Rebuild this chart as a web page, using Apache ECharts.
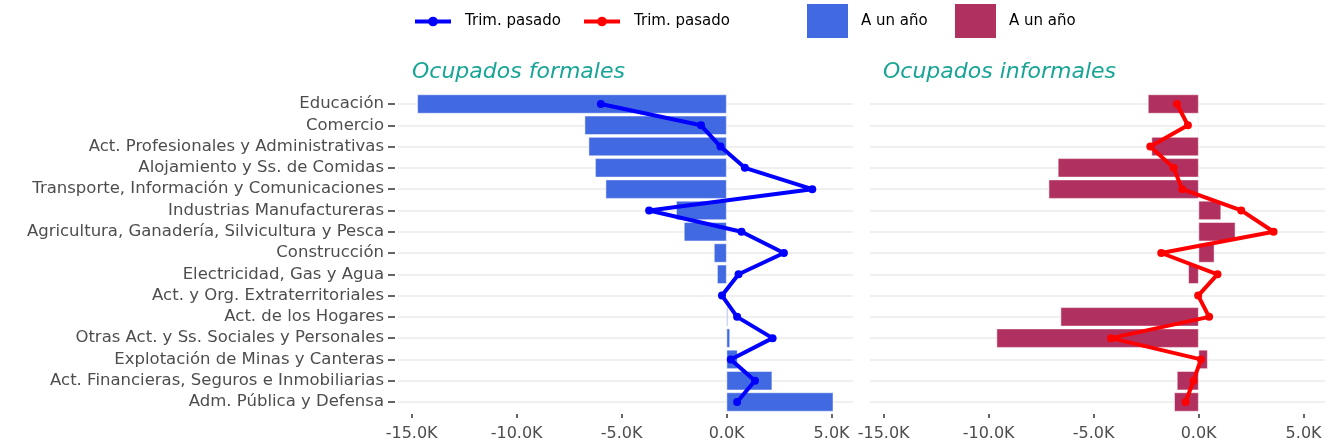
<!DOCTYPE html>
<html>
<head>
<meta charset="utf-8">
<script src="https://cdn.jsdelivr.net/npm/echarts@6/dist/echarts.min.js"></script>
<style>
  html, body { margin: 0; padding: 0; background: #fff; }
  #chart { width: 1330px; height: 444px; }
</style>
</head>
<body>
<div id="chart"></div>
<script>
// categorias (de arriba hacia abajo)
var categories = [
  'Educación', 'Comercio', 'Act. Profesionales y Administrativas',
  'Alojamiento y Ss. de Comidas', 'Transporte, Información y Comunicaciones',
  'Industrias Manufactureras', 'Agricultura, Ganadería, Silvicultura y Pesca',
  'Construcción', 'Electricidad, Gas y Agua', 'Act. y Org. Extraterritoriales',
  'Act. de los Hogares', 'Otras Act. y Ss. Sociales y Personales',
  'Explotación de Minas y Canteras', 'Act. Financieras, Seguros e Inmobiliarias',
  'Adm. Pública y Defensa'
];
// variacion a un año (barras)
var formalAnual   = [-14730, -6760, -6570, -6260, -5760, -2400, -2030, -600, -450, 0, 60, 160, 520, 2170, 5080];
var informalAnual = [-2410, -30, -2240, -6700, -7140, 1070, 1750, 750, -490, 0, -6570, -9620, 430, -1030, -1160];
// variacion trimestre pasado (lineas)
var formalTrim    = [-5990, -1220, -290, 870, 4080, -3690, 710, 2730, 570, -220, 500, 2190, 200, 1350, 500];
var informalTrim  = [-1030, -510, -2300, -1190, -780, 2030, 3570, -1780, 900, -20, 500, -4170, 110, -240, -620];
var xTicks = [-15000, -10000, -5000, 0, 5000];

var font = 'DejaVu Sans, Liberation Sans, sans-serif';
var chart = echarts.init(document.getElementById('chart'));

function xAxis(idx) {
  return {
    type: 'value', gridIndex: idx, min: -15650, max: 6020, offset: 12,
    axisLine: { show: false, onZero: false },
    axisTick: { show: true, length: 4, customValues: xTicks, lineStyle: { color: '#333', width: 1.5 } },
    axisLabel: {
      customValues: xTicks, margin: 12, fontSize: 16, color: '#4d4d4d', fontFamily: font,
      formatter: function (v) { return (v / 1000).toFixed(1) + 'K'; }
    },
    splitLine: { show: false }
  };
}
function yAxis(idx, labels) {
  return {
    type: 'category', gridIndex: idx, data: categories, inverse: true, boundaryGap: false,
    position: 'left', offset: 3,
    axisLine: { show: false, onZero: false },
    axisTick: { show: labels, length: 7, interval: 0, lineStyle: { color: '#333', width: 1.5 } },
    axisLabel: { show: labels, interval: 0, margin: 11, fontSize: 16.5, color: '#4d4d4d', fontFamily: font },
    splitLine: { show: true, interval: 0, lineStyle: { color: '#ebebeb', width: 1.5 } }
  };
}
function legendItem(name, left, top, w, h, gap, extra) {
  return Object.assign({
    data: [name], left: left, top: top, padding: 0, itemWidth: w, itemHeight: h,
    textStyle: { fontSize: 15, color: '#000', fontFamily: font, padding: [0, 0, 0, gap] }
  }, extra || {});
}

var option = {
  animation: false,
  backgroundColor: '#fff',
  title: [
    { text: 'Ocupados formales', left: 407, top: 56,
      textStyle: { fontSize: 22, fontStyle: 'italic', fontWeight: 'normal', color: '#18a596', fontFamily: font } },
    { text: 'Ocupados informales', left: 878, top: 56,
      textStyle: { fontSize: 22, fontStyle: 'italic', fontWeight: 'normal', color: '#18a596', fontFamily: font } }
  ],
  legend: [
    legendItem('Trim. pasado', 413, 14, 36, 12, 9, { lineStyle: { width: 4 } }),
    legendItem('Trim. pasado ', 582, 14, 36, 12, 9, { lineStyle: { width: 4 } }),
    legendItem('A un año', 805, 2, 43, 36, 7, { icon: 'rect' }),
    legendItem('A un año ', 953, 2, 43, 36, 7, { icon: 'rect' })
  ],
  grid: [
    { left: 398, top: 104, width: 455, height: 298 },
    { left: 870, top: 104, width: 455, height: 298 }
  ],
  xAxis: [xAxis(0), xAxis(1)],
  yAxis: [yAxis(0, true), yAxis(1, false)],
  series: [
    { name: 'A un año', type: 'bar', xAxisIndex: 0, yAxisIndex: 0, data: formalAnual, barWidth: 19, clip: false,
      itemStyle: { color: '#4169e1', borderColor: '#fff', borderWidth: 0.5 } },
    { name: 'A un año ', type: 'bar', xAxisIndex: 1, yAxisIndex: 1, data: informalAnual, barWidth: 19, clip: false,
      itemStyle: { color: '#b03060', borderColor: '#fff', borderWidth: 0.5 } },
    { name: 'Trim. pasado', type: 'line', xAxisIndex: 0, yAxisIndex: 0, data: formalTrim, clip: false,
      symbol: 'circle', symbolSize: 8, lineStyle: { color: '#0000ff', width: 4 }, itemStyle: { color: '#0000ff' } },
    { name: 'Trim. pasado ', type: 'line', xAxisIndex: 1, yAxisIndex: 1, data: informalTrim, clip: false,
      symbol: 'circle', symbolSize: 8, lineStyle: { color: '#ff0000', width: 4 }, itemStyle: { color: '#ff0000' } }
  ]
};
chart.setOption(option);
</script>
</body>
</html>
